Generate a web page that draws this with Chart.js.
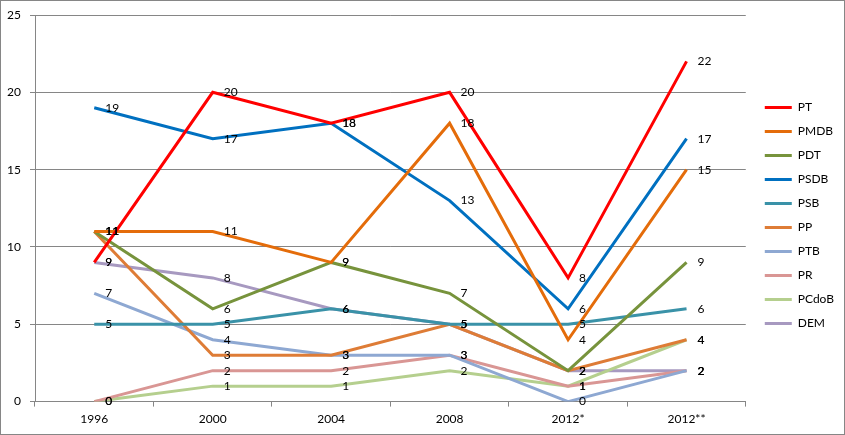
<!DOCTYPE html>
<html>
<head>
<meta charset="utf-8">
<script src="https://cdn.jsdelivr.net/npm/chart.js@4.4.1/dist/chart.umd.min.js"></script>
<style>
  html, body { margin: 0; padding: 0; background: #fff; }
  #wrap { width: 845px; height: 435px; position: relative; }
</style>
</head>
<body>
<div id="wrap"><canvas id="c" width="845" height="435"></canvas></div>
<script>
const categories = ["1996", "2000", "2004", "2008", "2012*", "2012**"];
const PT    = [9, 20, 18, 20, 8, 22];
const PMDB  = [11, 11, 9, 18, 4, 15];
const PDT   = [11, 6, 9, 7, 2, 9];
const PSDB  = [19, 17, 18, 13, 6, 17];
const PSB   = [5, 5, 6, 5, 5, 6];
const PP    = [11, 3, 3, 5, 2, 4];
const PTB   = [7, 4, 3, 3, 0, 2];
const PR    = [0, 2, 2, 3, 1, 2];
const PCdoB = [0, 1, 1, 2, 1, 4];
const DEM   = [9, 8, 6, 5, 2, 2];
const yTicks = [0, 5, 10, 15, 20, 25];

const FONT = "Lato";
const series = [
  ["PT", PT, "#FF0000"],
  ["PMDB", PMDB, "#E46C0A"],
  ["PDT", PDT, "#77933C"],
  ["PSDB", PSDB, "#0070C0"],
  ["PSB", PSB, "#3A92A8"],
  ["PP", PP, "#DE7C36"],
  ["PTB", PTB, "#8EA8D2"],
  ["PR", PR, "#D99694"],
  ["PCdoB", PCdoB, "#B5CF8E"],
  ["DEM", DEM, "#A799C0"]
];

const bgPlugin = {
  id: "bg",
  beforeDraw(chart) {
    const ctx = chart.ctx;
    ctx.save();
    ctx.fillStyle = "#ffffff";
    ctx.fillRect(0, 0, chart.width, chart.height);
    ctx.restore();
  },
  afterDraw(chart) {
    const ctx = chart.ctx;
    ctx.save();
    ctx.strokeStyle = "#868686";
    ctx.lineWidth = 1;
    ctx.strokeRect(0.5, 0.5, chart.width - 1, chart.height - 1);
    ctx.restore();
  }
};

const legendShift = {
  id: "legendShift",
  afterLayout(chart) {
    const lg = chart.legend;
    if (lg) { lg.left += 7; lg.right += 7; }
  }
};

const labelPlugin = {
  id: "valueLabels",
  afterDatasetsDraw(chart) {
    const ctx = chart.ctx;
    ctx.save();
    ctx.font = "12px " + FONT;
    ctx.fillStyle = "#000000";
    ctx.textAlign = "left";
    ctx.textBaseline = "middle";
    chart.getSortedVisibleDatasetMetas().forEach(meta => {
      const ds = chart.data.datasets[meta.index];
      meta.data.forEach((el, i) => {
        ctx.fillText(String(ds.data[i]), el.x + 11, el.y);
      });
    });
    ctx.restore();
  }
};

new Chart(document.getElementById("c"), {
  type: "line",
  data: {
    labels: categories,
    datasets: series.map(([name, data, color]) => ({
      label: name,
      data: data,
      borderColor: color,
      backgroundColor: color,
      borderWidth: 3,
      pointRadius: 0,
      pointHoverRadius: 0,
      tension: 0,
      fill: false
    }))
  },
  options: {
    responsive: false,
    animation: false,
    events: [],
    layout: { padding: { top: 0, left: 1, right: 8, bottom: 4 } },
    plugins: {
      tooltip: { enabled: false },
      legend: {
        position: "right",
        align: "center",
        labels: {
          usePointStyle: true,
          pointStyle: "line",
          pointStyleWidth: 27,
          boxHeight: 12,
          padding: 12,
          color: "#000",
          font: { family: FONT, size: 12 }
        }
      }
    },
    scales: {
      x: {
        offset: true,
        grid: {
          offset: true,
          drawOnChartArea: false,
          drawTicks: true,
          tickLength: 5,
          color: "#868686"
        },
        border: { color: "#868686", width: 1 },
        ticks: {
          color: "#000",
          font: { family: FONT, size: 12 },
          padding: 5,
          maxRotation: 0
        }
      },
      y: {
        min: 0,
        max: 25,
        afterBuildTicks(scale) {
          scale.ticks = yTicks.map(v => ({ value: v }));
        },
        afterFit(scale) {
          scale.paddingTop = 15;
          scale.width = 34;
        },
        grid: {
          color: "#868686",
          drawTicks: true,
          tickLength: 5
        },
        border: { color: "#868686", width: 1 },
        ticks: {
          color: "#000",
          font: { family: FONT, size: 12 },
          padding: 9
        }
      }
    }
  },
  plugins: [bgPlugin, legendShift, labelPlugin]
});
</script>
</body>
</html>
